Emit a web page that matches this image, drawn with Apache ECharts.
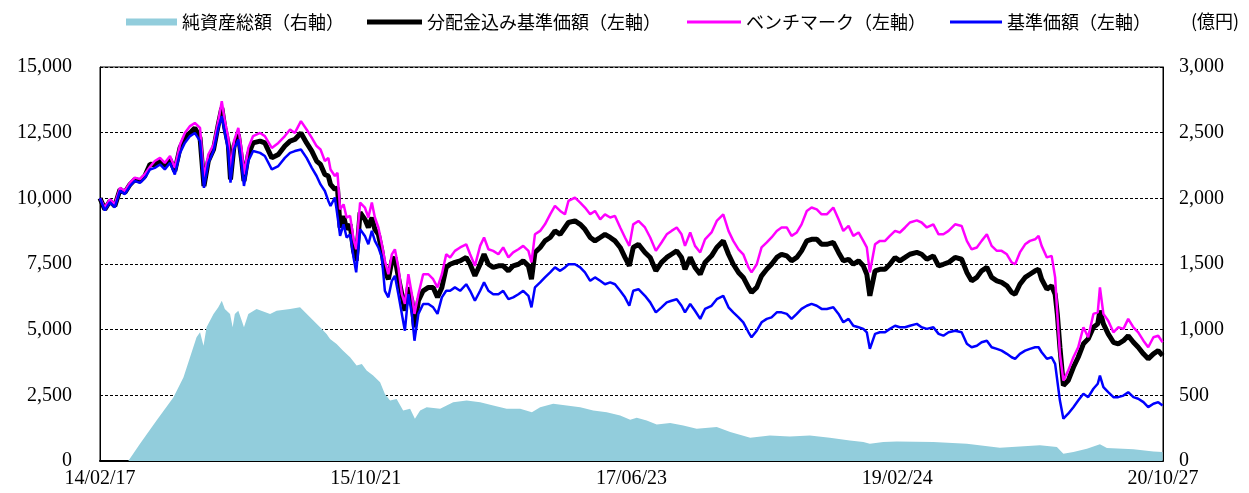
<!DOCTYPE html>
<html><head><meta charset="utf-8">
<script src="https://cdn.jsdelivr.net/npm/echarts@6/dist/echarts.min.js"></script>
<style>html,body{margin:0;padding:0;background:#fff}#c{width:1249px;height:493px}</style>
</head><body><div id="c"></div>
<script>
// x positions: days since 2014-02-17
const days = [
  0,11,23,34,46,57,69,80,92,103, 115,126,138,149,161,172,184,195,207,218,
  230,239,249,261,272,280,287,295,300,308, 318,326,331,341,352,368,379,395,410,425,
  437,448,462,475,487,498,507,517,525,530, 540,546,552,560,567,575,583,589,
  598,609,617,625,632,640,648,655,663,671, 678,686,694,701,709,717,723,732,743,755,
  766,776,786,796,805,816,828,842,851,862, 874,883,893,904,916,927,939,950,962,973,
  985,992,1000,1012,1023,1035,1046,1058,1069,1077, 1092,1104,1115,1127,1138,1150,1161,1173,1184,1196,
  1207,1217,1226,1238,
  1253,1265,1278,1291,1303,1314,1326,1337,1345,1357, 1368,1380,1391,1406,1418,1433,1445,1456,1468,1479,
  1491,1498,1510,1521,1533,1544,1556,1567,1579,1590, 1602,1613,1625,1636,1648,1659,1671,1686,1698,1709,
  1721,1732,1744,1755,1763,1770,1782,1793,1805,1816, 1828,
  1839,1851,1862,1878,1889,1901,1916,1928,1939,1951, 1966,1981,1993,2004,2016,2027,2039,2050,2062,2073,
  2085,2096,2104,2115,2127,2138,2150,2158,2165,2177, 2188,2196,2201,2207,2215,2226,2238,2249,2261,2272,
  2284,2294,2299,2307,2318,2330,2341,2353,2364,2376, 2387,2399,2410,2422,2433,2443
];
// ベンチマーク
const bench = [
  10000,9650,9960,9780,10400,10280,10600,10790,10730,10920, 11200,11420,11540,11350,11610,11160,12050,12490,12750,12870,
  12680,10790,11670,12050,12940,13700,12940,12300,11040,12180, 12680,11800,10910,11920,12370,12490,12370,11920,12110,12370,
  12620,12490,12940,12620,12300,11990,11860,11420,11540,11100, 10850,10970,9580,9770,9270,9330,8440,8060,
  9840,9650,9270,9840,9270,8890,8250,7620,7110,7870, 8060,7370,6350,5980,7110,6350,5600,6350,7110,7110,
  6920,6610,7110,7870,7750,8000,8130,8250,7870,7430, 8190,8510,8060,8000,7870,8130,7750,7940,8060,8190,
  8000,7560,8630,8760,9010,9390,9710,9520,9390,9900, 10030,9840,9650,9390,9520,9200,9390,9270,9330,8890,
  8510,8190,9010,9140,
  8890,8510,8000,8320,8630,8760,8890,8630,8190,8700, 8190,7940,8440,8700,9140,9390,8760,8380,8060,7870,
  7370,7180,7490,8130,8320,8510,8760,8890,8890,8570, 8700,9010,9520,9650,9580,9390,9390,9650,9200,8760,
  8950,8570,8700,8380,8130,7180,8250,8380,8380,8570, 8760,
  8700,8890,9080,9160,9080,8890,9010,8630,8630,8760, 9010,8950,8380,8060,8130,8380,8630,8190,8000,8000,
  7870,7560,7490,7940,8250,8380,8440,8570,8190,7750, 7810,6990,5600,4080,3060,3440,3950,4330,5090,4710,
  5600,5660,6610,5600,5340,4900,5090,5030,5410,5090, 4900,4580,4330,4710,4770,4520
];
// 分配金込み基準価額
const navDiv = [
  10000,9580,9900,9710,10340,10220,10530,10720,10660,10850, 11300,11290,11420,11230,11480,11040,11920,12300,12490,12680,
  12300,10470,11420,11860,12810,13440,12680,12050,10720,11990, 12430,11420,10660,11670,12110,12180,12110,11540,11670,11990,
  12180,12240,12490,12110,11800,11420,11290,10910,10850,10530, 10340,10400,8890,9330,8820,9010,8000,7620,
  9460,9200,8890,9270,8820,8630,8000,7240,6920,7620, 7750,6990,6350,5720,6610,6100,5090,6100,6480,6610,
  6610,6230,6610,7370,7490,7560,7620,7750,7490,7050, 7490,7870,7490,7370,7430,7430,7240,7430,7490,7620,
  7430,6920,7940,8130,8380,8510,8760,8630,8890,9080, 9140,9010,8820,8510,8380,8510,8630,8510,8380,8130,
  7750,7430,8130,8250,
  7940,7750,7240,7560,7750,7870,8000,7750,7300,7750, 7370,7110,7560,7810,8130,8380,7870,7490,7180,6990,
  6610,6420,6610,7050,7300,7490,7750,7870,7810,7620, 7750,8000,8380,8440,8440,8250,8250,8320,7940,7620,
  7680,7490,7620,7430,7110,6290,7240,7300,7300,7490, 7750,
  7620,7750,7870,7940,7870,7680,7810,7430,7490,7560, 7750,7680,7180,6860,6990,7240,7370,6990,6860,6800,
  6670,6420,6350,6730,6990,7110,7240,7300,6920,6540, 6670,6350,5600,4330,2870,3060,3570,3950,4460,4650,
  5090,5220,5720,5220,4840,4520,4460,4580,4770,4520, 4330,4080,3890,4080,4200,4010
];
// 基準価額
const nav = [
  10000,9540,9850,9660,10290,10160,10470,10660,10590,10770, 11100,11160,11290,11100,11350,10910,11730,12110,12370,12490,
  12180,10400,11350,11800,12680,13130,12490,11800,10600,11860, 12240,11230,10470,11420,11800,11730,11610,11100,11230,11540,
  11730,11800,11860,11540,11160,10850,10530,10280,9900,9710, 10030,9330,8570,9010,8510,8630,7750,7180,
  8820,8570,8250,8760,8380,8130,7750,6480,6230,6860, 7050,6350,5600,4960,6350,5600,4580,5600,5980,5980,
  5850,5600,6230,6480,6480,6610,6480,6730,6480,6100, 6480,6800,6480,6350,6350,6480,6160,6230,6350,6480,
  6290,5850,6610,6800,6990,7180,7370,7240,7370,7490, 7490,7370,7180,6860,6990,6860,6730,6800,6730,6480,
  6230,5910,6480,6540,
  6290,6040,5660,5850,6040,6100,6160,5910,5660,5980, 5720,5410,5790,5910,6160,6290,5850,5660,5470,5280,
  4900,4710,4960,5280,5410,5470,5660,5660,5600,5410, 5600,5790,5910,5980,5910,5790,5790,5850,5600,5280,
  5410,5150,5090,5030,4900,4270,4840,4900,4900,5030, 5150,
  5090,5090,5150,5220,5090,5030,5090,4840,4770,4900, 4960,4900,4460,4330,4390,4520,4580,4330,4270,4200,
  4080,3950,3890,4080,4200,4270,4330,4330,4140,3890, 3950,3700,3060,2300,1610,1800,2050,2300,2560,2430,
  2750,2940,3250,2810,2620,2430,2430,2490,2620,2430, 2370,2240,2050,2180,2240,2110
];
// 純資産総額 (億円)
const aumDays = [
  0,65,92,130,169,192,207,222,230,238, 245,261,272,280,287,299,305,310,318,326,
  331,341,360,391,406,437,460,483,506,521, 529,544,559,575,590,602,613,628,644,655,
  667,682,697,713,724,736,751,782,812,843, 874,904,935,966,993,1012,1042,1073,1104,1134,
  1165,1196,1219,1234,1257,1280,1311,1341,1372,1418, 1449,1495,1540,1586,1632,1678,1724,1755,1770,1801,
  1832,1916,1993,2069,2115,2161,2200,2215,2238,2269, 2299,2315,2376,2422,2443
];
const aum = [
  0,0,132,309,486,638,790,942,980,878, 1018,1119,1170,1220,1157,1119,1018,1119,1144,1068,
  1018,1119,1157,1119,1144,1157,1170,1094,1018,967, 929,891,840,790,727,739,689,651,600,511,
  461,473,385,397,322,385,410,397,448,461, 448,423,397,397,372,410,435,423,410,385,
  372,347,314,329,309,278,289,271,246,258, 220,177,195,187,195,177,157,144,132,144,
  149,144,132,101,111,119,106,56,68,94, 127,99,89,73,68
];
const xTickLabels = ['14/02/17','15/10/21','17/06/23','19/02/24','20/10/27'];
const names = ['純資産総額（右軸）','分配金込み基準価額（左軸）','ベンチマーク（左軸）','基準価額（左軸）'];

const pairs = (xs, ys) => xs.map((x, i) => [x, ys[i]]);
const fmt = v => Number(v).toLocaleString('en-US');
const serif = 'Liberation Serif';
const legendText = {fontFamily: 'Noto Sans CJK JP', fontSize: 18, color: '#000'};
const mkLegend = (name, left, w, h) => ({
  left: left, top: 13, padding: 0, itemWidth: w, itemHeight: h, itemGap: 0,
  selectedMode: false, textStyle: legendText, data: [{name: name, icon: 'rect'}]
});

const chart = echarts.init(document.getElementById('c'));
chart.setOption({
  animation: false,
  grid: {left: 100, right: 86, top: 67, bottom: 32, show: true, borderColor: '#000', borderWidth: 1},
  legend: [
    mkLegend(names[0], 126, 51, 7),
    mkLegend(names[1], 367, 55, 5),
    mkLegend(names[2], 687, 54, 3),
    mkLegend(names[3], 950, 52, 3)
  ],
  graphic: [{type: 'text', left: 1191, top: 12, style: {text: '(億円)', font: '18px "Noto Sans CJK JP"', fill: '#000'}}],
  xAxis: {
    type: 'value', min: 0, max: 2444, interval: 611,
    axisLine: {lineStyle: {color: '#000', width: 2}},
    axisTick: {inside: true, length: 6, lineStyle: {color: '#000'}},
    splitLine: {show: false},
    axisLabel: {formatter: v => xTickLabels[Math.round(v / 611)], fontFamily: serif, fontSize: 20, color: '#000', margin: 8}
  },
  yAxis: [
    {type: 'value', min: 0, max: 15000, interval: 2500,
     axisLine: {show: true, lineStyle: {color: '#000'}}, axisTick: {show: false},
     splitLine: {lineStyle: {color: '#000', type: [3, 2], width: 1}},
     axisLabel: {formatter: fmt, fontFamily: serif, fontSize: 20, color: '#000', margin: 28}},
    {type: 'value', min: 0, max: 3000, interval: 500, position: 'right',
     axisLine: {show: true, lineStyle: {color: '#000'}}, axisTick: {show: false},
     splitLine: {show: false},
     axisLabel: {formatter: fmt, fontFamily: serif, fontSize: 20, color: '#000', margin: 16}}
  ],
  series: [
    {name: names[0], type: 'line', yAxisIndex: 1, data: pairs(aumDays, aum), symbol: 'none',
     lineStyle: {width: 0}, itemStyle: {color: '#92CDDC'}, areaStyle: {color: '#92CDDC', opacity: 1}, z: 1},
    {name: names[1], type: 'line', data: pairs(days, navDiv), symbol: 'none',
     lineStyle: {width: 5, color: '#000'}, itemStyle: {color: '#000'}, z: 2},
    {name: names[2], type: 'line', data: pairs(days, bench), symbol: 'none',
     lineStyle: {width: 2.5, color: '#FF00FF'}, itemStyle: {color: '#FF00FF'}, z: 3},
    {name: names[3], type: 'line', data: pairs(days, nav), symbol: 'none',
     lineStyle: {width: 2.5, color: '#0000FF'}, itemStyle: {color: '#0000FF'}, z: 4}
  ]
});
</script></body></html>
